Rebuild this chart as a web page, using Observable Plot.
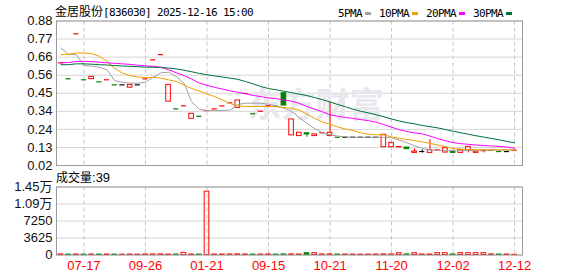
<!DOCTYPE html>
<html>
<head>
<meta charset="utf-8">
<script src="https://cdn.jsdelivr.net/npm/d3@7"></script>
<script src="https://cdn.jsdelivr.net/npm/@observablehq/plot@0.6"></script>
<style>
  html, body { margin: 0; padding: 0; background: #fff; }
  #wrap { position: relative; width: 578px; height: 276px; overflow: hidden; background: #fff; }
  .abs { position: absolute; white-space: nowrap; line-height: 1; }
  .cjk { font-family: "Noto Sans CJK SC", sans-serif; font-size: 12px; }
  .mono { font-family: "DejaVu Sans Mono", monospace; font-size: 11px; letter-spacing: -0.62px; }
  #title { left: 55px; top: 3px; color: #000; }
  #legend { left: 338px; top: 4px; color: #000; }
  .sw { display: inline-block; width: 6px; height: 3px; margin-left: 3px; margin-right: 8px; vertical-align: 2px; }
  #vlabel { left: 56px; top: 169px; color: #000; }
  #vlabel .num { font-family: "Liberation Sans", sans-serif; font-size: 13px; }
</style>
</head>
<body>
<div id="wrap">
  <div id="main" class="abs" style="left:0;top:0"></div>
  <div id="vol" class="abs" style="left:0;top:170px"></div>
  <div id="title" class="abs"><span class="cjk">金居股份</span><span class="mono">[836030] 2025-12-16 15:00</span></div>
  <div id="legend" class="abs"></div>
  <div id="vlabel" class="abs"><span class="cjk">成交量</span><span class="num">:39</span></div>
</div>
<script>
// ---------- data ----------
const open  = [0.631,0.536,0.804,0.530,0.534,0.518,0.530,0.500,0.500,0.483,
               0.500,0.536,0.649,0.680,0.400,0.357,0.375,0.298,0.313,0.347,
               0.357,0.375,0.393,0.363,0.449,0.328,0.343,0.375,0.372,0.450,
               0.199,0.195,0.212,0.195,0.215,0.195,0.188,0.188,0.188,0.188,
               0.188,0.188,0.129,0.129,0.128,0.127,0.095,0.103,0.095,0.113,
               0.097,0.103,0.095,0.111,0.095,0.105,0.111,0.103,0.103,0.111];
const close = [0.631,0.536,0.804,0.530,0.548,0.518,0.530,0.500,0.500,0.500,
               0.500,0.536,0.649,0.680,0.500,0.357,0.375,0.328,0.313,0.347,
               0.357,0.375,0.393,0.407,0.449,0.328,0.343,0.375,0.372,0.377,
               0.294,0.215,0.205,0.205,0.215,0.215,0.188,0.188,0.188,0.188,
               0.188,0.188,0.203,0.155,0.130,0.117,0.103,0.103,0.111,0.113,
               0.123,0.095,0.113,0.131,0.103,0.109,0.111,0.103,0.103,0.111];
const high  = [0.631,0.536,0.804,0.530,0.548,0.518,0.530,0.500,0.500,0.500,
               0.500,0.536,0.649,0.680,0.500,0.357,0.375,0.328,0.313,0.347,
               0.357,0.375,0.393,0.407,0.449,0.328,0.343,0.375,0.372,0.450,
               0.294,0.215,0.212,0.205,0.215,0.397,0.188,0.188,0.188,0.188,
               0.188,0.188,0.203,0.155,0.130,0.127,0.119,0.113,0.175,0.113,
               0.123,0.103,0.113,0.131,0.103,0.109,0.111,0.103,0.103,0.111];
const low   = [0.631,0.536,0.804,0.530,0.534,0.518,0.530,0.500,0.500,0.483,
               0.500,0.536,0.649,0.680,0.400,0.357,0.375,0.298,0.313,0.347,
               0.357,0.375,0.393,0.363,0.449,0.328,0.343,0.375,0.372,0.377,
               0.199,0.195,0.188,0.195,0.215,0.195,0.188,0.188,0.188,0.188,
               0.188,0.188,0.129,0.129,0.128,0.117,0.095,0.095,0.095,0.113,
               0.097,0.095,0.095,0.095,0.095,0.095,0.111,0.103,0.103,0.111];
const prevClose0 = 0.62;
const volume = [120,90,110,80,100,90,110,80,70,100,
                80,110,120,130,90,100,450,110,90,13500,
                100,110,120,130,110,90,100,110,80,120,
                130,110,380,380,120,130,90,100,90,80,
                90,100,130,110,380,120,380,100,110,380,
                380,110,380,380,380,380,120,90,100,39];
const ma5  = [0.720,0.680,0.680,0.615,0.612,0.605,0.590,0.525,0.515,0.510,
              0.510,0.515,0.545,0.572,0.575,0.550,0.510,0.400,0.355,0.347,
              0.347,0.347,0.350,0.383,0.391,0.391,0.390,0.385,0.375,0.360,
              0.343,0.305,0.270,0.240,0.215,0.203,0.195,0.190,0.188,0.188,
              0.188,0.188,0.187,0.185,0.172,0.155,0.137,0.122,0.113,0.109,
              0.109,0.108,0.108,0.109,0.110,0.111,0.111,0.112,0.112,0.113];
const ma10 = [0.679,0.683,0.689,0.689,0.686,0.670,0.640,0.598,0.570,0.555,
              0.547,0.542,0.545,0.540,0.530,0.520,0.500,0.478,0.463,0.445,
              0.430,0.410,0.390,0.375,0.372,0.371,0.371,0.371,0.370,0.365,
              0.360,0.350,0.325,0.300,0.280,0.265,0.250,0.237,0.228,0.215,
              0.205,0.203,0.202,0.190,0.182,0.175,0.168,0.160,0.152,0.142,
              0.132,0.120,0.117,0.115,0.114,0.113,0.113,0.113,0.113,0.113];
const ma20 = [0.631,0.633,0.639,0.640,0.638,0.635,0.631,0.628,0.625,0.622,
              0.617,0.613,0.610,0.605,0.590,0.572,0.555,0.535,0.510,0.497,
              0.485,0.475,0.465,0.456,0.447,0.437,0.430,0.423,0.418,0.410,
              0.403,0.390,0.371,0.355,0.340,0.322,0.313,0.306,0.300,0.293,
              0.287,0.278,0.263,0.248,0.233,0.222,0.214,0.208,0.195,0.180,
              0.168,0.156,0.150,0.146,0.142,0.139,0.136,0.134,0.130,0.123];
const ma30 = [0.620,0.620,0.625,0.625,0.623,0.620,0.618,0.615,0.612,0.610,
              0.608,0.605,0.605,0.603,0.600,0.595,0.587,0.578,0.568,0.560,
              0.553,0.547,0.540,0.533,0.520,0.506,0.490,0.478,0.470,0.462,
              0.453,0.445,0.436,0.424,0.412,0.398,0.383,0.370,0.355,0.343,
              0.333,0.322,0.310,0.297,0.285,0.275,0.268,0.258,0.251,0.244,
              0.234,0.224,0.215,0.206,0.197,0.189,0.181,0.173,0.163,0.155];
const gridIdx = [3,11,19,27,35,43,51,59];
const xLabels = ["07-17","09-26","01-21","09-15","10-21","11-20","12-02","12-12"];
const yTickLabels = ["0.02","0.13","0.24","0.34","0.45","0.56","0.66","0.77","0.88"];
const vTickLabels = ["0","3625","7250","1.09万","1.45万"];
const vTickVals = [0,3625,7250,10875,14500];
const maNames = ["5PMA","10PMA","20PMA","30PMA"];

// ---------- styling ----------
const RED = "#ff0000", GREEN = "#008000", BLACK = "#000000";
const MA_COLORS = ["#a0a0a0","#f0a000","#ff00ff","#00703a"];
const GRID = "#d6d6d6", VGRID = "#c4c4c4", FRAME = "#9a9a9a";
const yMin = 0.02, yMax = 0.88;
const yTickVals = yTickLabels.map((_, k) => yMin + k * (yMax - yMin) / (yTickLabels.length - 1));
const xDomain = [-0.572, 60.03];
const N = open.length;
const idx = d3.range(N);

function dirColor(i) {
  if (close[i] > open[i]) return RED;
  if (close[i] < open[i]) return GREEN;
  const pc = i ? close[i - 1] : prevClose0;
  return close[i] > pc ? RED : close[i] < pc ? GREEN : BLACK;
}
const rows = idx.map(i => ({i, o: open[i], c: close[i], h: high[i], l: low[i], v: volume[i], col: dirColor(i)}));
const BW = 0.3, DW = 0.33;
const fontStack = '"Liberation Sans", "Noto Sans CJK SC", Arial, sans-serif';

function candleMarks(col, filled) {
  const sel = rows.filter(d => d.col === col);
  const bodies = sel.filter(d => d.o !== d.c);
  const dashes = sel.filter(d => d.o === d.c);
  const up = sel.filter(d => d.h > Math.max(d.o, d.c));
  const dn = sel.filter(d => d.l < Math.min(d.o, d.c));
  return [
    Plot.ruleX(up, {x: "i", y1: d => Math.max(d.o, d.c), y2: "h", stroke: col, strokeWidth: 1}),
    Plot.ruleX(dn, {x: "i", y1: "l", y2: d => Math.min(d.o, d.c), stroke: col, strokeWidth: 1}),
    Plot.rect(bodies, {x1: d => d.i - BW, x2: d => d.i + BW, y1: "o", y2: "c",
      fill: filled ? col : "none", stroke: col, strokeWidth: 1}),
    Plot.ruleY(dashes, {y: "c", x1: d => d.i - DW, x2: d => d.i + DW, stroke: col, strokeWidth: 1.2})
  ];
}

const mas = [ma5, ma10, ma20, ma30];

const mainPlot = Plot.plot({
  width: 578, height: 178,
  marginLeft: 56, marginRight: 56, marginTop: 20.5, marginBottom: 13,
  x: {type: "linear", domain: xDomain, axis: null},
  y: {domain: [yMin, yMax], label: null},
  style: {fontFamily: fontStack, fontSize: "13px", color: "#111", background: "transparent"},
  marks: [
    Plot.ruleY(yTickVals, {stroke: GRID}),
    Plot.ruleX(gridIdx, {stroke: VGRID, strokeDasharray: "4,3"}),
    Plot.text(["东方财富"], {frameAnchor: "top-left", dx: 191, dy: 72, textAnchor: "start",
      lineAnchor: "top", fontSize: 34, fontWeight: "bold", fill: "#e8e8ee",
      fontFamily: '"Noto Sans CJK SC", sans-serif'}),
    ...candleMarks(RED, false),
    ...candleMarks(GREEN, true),
    ...candleMarks(BLACK, false),
    ...mas.map((m, k) => Plot.line(idx, {x: d => d, y: d => m[d], stroke: MA_COLORS[k], strokeWidth: 1})),
    Plot.frame({stroke: FRAME}),
    Plot.axisY(yTickVals, {tickSize: 0, tickPadding: 4, fontSize: 13, label: null,
      tickFormat: d => yTickLabels[yTickVals.indexOf(d)]})
  ]
});
document.getElementById("main").appendChild(mainPlot);

const volPlot = Plot.plot({
  width: 578, height: 106,
  marginLeft: 56, marginRight: 56, marginTop: 16.5, marginBottom: 21.5,
  x: {type: "linear", domain: xDomain, label: null},
  y: {domain: [0, 14500], label: null},
  style: {fontFamily: fontStack, fontSize: "13px", color: "#111", background: "transparent"},
  marks: [
    Plot.ruleY(vTickVals, {stroke: GRID}),
    Plot.ruleX(gridIdx, {stroke: VGRID, strokeDasharray: "4,3"}),
    Plot.rect(rows.filter(d => d.col !== GREEN), {x1: d => d.i - BW, x2: d => d.i + BW, y1: 0, y2: "v",
      fill: "none", stroke: RED, strokeWidth: 1}),
    Plot.rect(rows.filter(d => d.col === GREEN), {x1: d => d.i - BW, x2: d => d.i + BW, y1: 0, y2: "v",
      fill: GREEN, stroke: GREEN, strokeWidth: 1}),
    Plot.frame({stroke: FRAME}),
    Plot.axisY(vTickVals, {tickSize: 0, tickPadding: 4, fontSize: 13, label: null,
      tickFormat: d => vTickLabels[vTickVals.indexOf(d)]}),
    Plot.axisX(gridIdx, {tickSize: 0, tickPadding: 6, fontSize: 13, color: "#f00", label: null,
      tickFormat: d => xLabels[gridIdx.indexOf(d)]})
  ]
});
document.getElementById("vol").appendChild(volPlot);

// legend
const legend = document.getElementById("legend");
maNames.forEach((name, k) => {
  const t = document.createElement("span");
  t.className = "mono";
  t.textContent = name;
  legend.appendChild(t);
  const s = document.createElement("span");
  s.className = "sw";
  s.style.background = MA_COLORS[k];
  legend.appendChild(s);
});
</script>
</body>
</html>
